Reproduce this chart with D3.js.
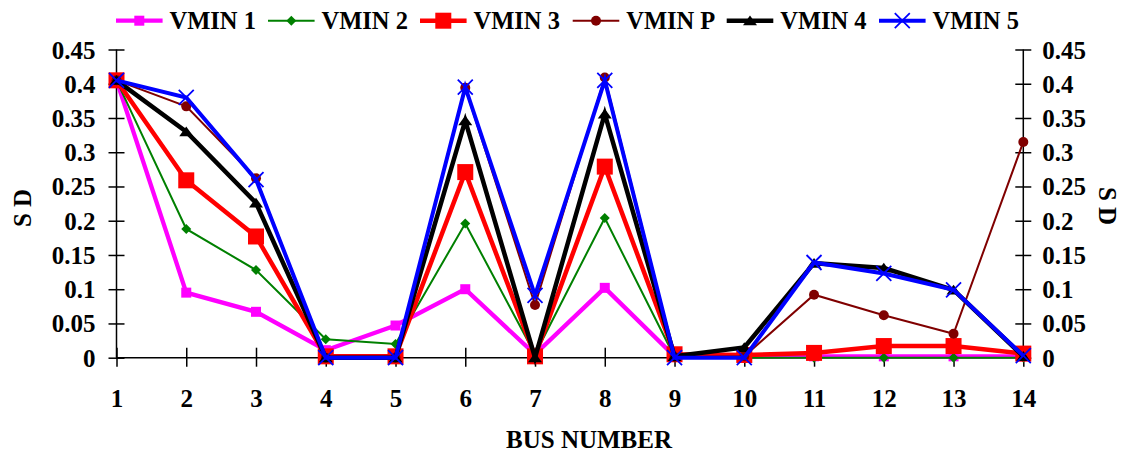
<!DOCTYPE html>
<html>
<head>
<meta charset="utf-8">
<script src="https://cdn.jsdelivr.net/npm/d3@7"></script>
<style>
  body { margin: 0; background: #fff; }
</style>
</head>
<body>
<div id="chart"></div>
<script>
// bus numbers on the x axis
var buses = [1, 2, 3, 4, 5, 6, 7, 8, 9, 10, 11, 12, 13, 14];

// SD values
var vmin1 = [0.405, 0.095, 0.067, 0.011, 0.047, 0.100, 0.005, 0.102, 0.002, 0.002, 0.002, 0.002, 0.002, 0.002];
var vmin2 = [0.405, 0.188, 0.128, 0.027, 0.020, 0.196, 0.005, 0.204, 0.001, 0.000, 0.000, 0.000, 0.000, 0.000];
var vmin3 = [0.405, 0.259, 0.177, 0.002, 0.002, 0.271, 0.002, 0.279, 0.005, 0.004, 0.007, 0.017, 0.017, 0.006];
var vminP = [0.405, 0.367, 0.262, 0.000, 0.000, 0.394, 0.077, 0.409, 0.001, 0.002, 0.092, 0.062, 0.035, 0.315];
var vmin4 = [0.405, 0.330, 0.226, 0.000, 0.000, 0.346, 0.000, 0.356, 0.002, 0.015, 0.138, 0.131, 0.099, 0.002];
var vmin5 = [0.405, 0.380, 0.260, 0.000, 0.000, 0.395, 0.091, 0.405, 0.000, 0.000, 0.139, 0.123, 0.099, 0.003];

var yTicks = [0, 0.05, 0.1, 0.15, 0.2, 0.25, 0.3, 0.35, 0.4, 0.45];

var series = [
  {name: "VMIN 1", values: vmin1, color: "#ff00ff", width: 4.3, marker: "square",   size: 10},
  {name: "VMIN 2", values: vmin2, color: "#008000", width: 2,   marker: "diamond",  size: 10},
  {name: "VMIN 3", values: vmin3, color: "#ff0000", width: 4.5, marker: "square",   size: 16},
  {name: "VMIN P", values: vminP, color: "#800000", width: 2,   marker: "circle",   size: 10},
  {name: "VMIN 4", values: vmin4, color: "#000000", width: 4.5, marker: "triangle", size: 14},
  {name: "VMIN 5", values: vmin5, color: "#0000ff", width: 4,   marker: "x",        size: 15}
];

var FONT = '"Liberation Serif", "Times New Roman", Times, serif';
var W = 1125, H = 454;

var svg = d3.select("#chart").append("svg")
    .attr("width", W)
    .attr("height", H);

var x = d3.scaleLinear().domain([1, 14]).range([116.5, 1023.3]);
var y = d3.scaleLinear().domain([0, 0.45]).range([357.7, 49.5]);

function styleText(sel, size) {
  sel.style("font-family", FONT)
     .style("font-weight", "bold")
     .style("font-size", size + "px")
     .attr("fill", "#000");
}

// axes
var fmt = function(d) { return String(+d.toFixed(2)); };

var left = svg.append("g")
    .attr("transform", "translate(" + x(1) + ",0)")
    .call(d3.axisLeft(y).tickValues(yTicks).tickSize(8).tickFormat(fmt));
var right = svg.append("g")
    .attr("transform", "translate(" + x(14) + ",0)")
    .call(d3.axisRight(y).tickValues(yTicks).tickSize(8).tickFormat(fmt));
var bottom = svg.append("g")
    .attr("transform", "translate(0," + y(0) + ")")
    .call(d3.axisBottom(x).tickValues(buses).tickSize(9).tickFormat(d3.format("d")));

[left, right, bottom].forEach(function(g) {
  g.attr("font-family", null);
  g.select(".domain").attr("stroke", "#000").attr("stroke-width", 1.5);
  g.selectAll(".tick line").attr("stroke", "#000").attr("stroke-width", 1.5);
  styleText(g.selectAll(".tick text"), 25);
});
// ticks cross the axis lines
left.selectAll(".tick line").attr("x1", 8).attr("x2", -8);
left.selectAll(".tick text").attr("x", -21).attr("dy", "0.34em");
right.selectAll(".tick line").attr("x1", -8).attr("x2", 8);
right.selectAll(".tick text").attr("x", 19).attr("dy", "0.34em");
bottom.selectAll(".tick line").attr("y1", -10).attr("y2", 9);
bottom.selectAll(".tick text").attr("y", 49).attr("dy", null);
bottom.select(".domain").attr("d", "M" + x(1) + ",0H" + x(14));
left.select(".domain").attr("d", "M0," + y(0) + "V" + y(0.45));
right.select(".domain").attr("d", "M0," + y(0) + "V" + y(0.45));

// axis titles
styleText(svg.append("text")
    .attr("transform", "translate(31,208) rotate(-90)")
    .attr("text-anchor", "middle")
    .text("S D"), 25);
styleText(svg.append("text")
    .attr("transform", "translate(1099,206) rotate(90)")
    .attr("text-anchor", "middle")
    .text("S D"), 25);
styleText(svg.append("text")
    .attr("x", 589)
    .attr("y", 448)
    .attr("text-anchor", "middle")
    .text("BUS NUMBER"), 25);

function drawMarker(g, s) {
  var h = s.size / 2;
  if (s.marker === "x") {
    g.append("path")
      .attr("d", "M" + (-h) + "," + (-h) + "L" + h + "," + h + "M" + (-h) + "," + h + "L" + h + "," + (-h))
      .attr("stroke", s.color)
      .attr("stroke-width", 1.8)
      .attr("fill", "none");
    return;
  }
  if (s.marker === "square") {
    g.append("rect")
      .attr("x", -h).attr("y", -h)
      .attr("width", s.size).attr("height", s.size)
      .attr("fill", s.color);
    return;
  }
  if (s.marker === "circle") {
    g.append("circle").attr("r", h).attr("fill", s.color);
    return;
  }
  var d = s.marker === "diamond"
    ? "M0," + (-h) + "L" + h + ",0L0," + h + "L" + (-h) + ",0Z"
    : "M0," + (-h * 0.75) + "L" + h + "," + (h * 0.65) + "L" + (-h) + "," + (h * 0.65) + "Z";
  g.append("path").attr("d", d).attr("fill", s.color);
}

var line = d3.line()
    .x(function(d, i) { return x(buses[i]); })
    .y(function(d) { return y(d); });

var plot = svg.append("g");

series.forEach(function(s) {
  var g = plot.append("g");
  g.append("path")
    .attr("d", line(s.values))
    .attr("fill", "none")
    .attr("stroke", s.color)
    .attr("stroke-width", s.width)
    .attr("stroke-linejoin", "miter");
  s.values.forEach(function(v, i) {
    var m = g.append("g").attr("transform", "translate(" + x(buses[i]) + "," + y(v) + ")");
    drawMarker(m, s);
  });
});

// legend
var legendX = [116, 268, 420, 572.7, 726.7, 879];
var legend = svg.append("g");
series.forEach(function(s, i) {
  var item = legend.append("g").attr("transform", "translate(" + legendX[i] + ",20.7)");
  item.append("line")
    .attr("x1", 0).attr("x2", 46.6)
    .attr("stroke", s.color)
    .attr("stroke-width", s.width);
  var m = item.append("g").attr("transform", "translate(23.3,0)");
  drawMarker(m, s);
  styleText(item.append("text")
    .attr("x", 53.5)
    .attr("y", 8.6)
    .text(s.name), 24.5);
});
</script>
</body>
</html>
